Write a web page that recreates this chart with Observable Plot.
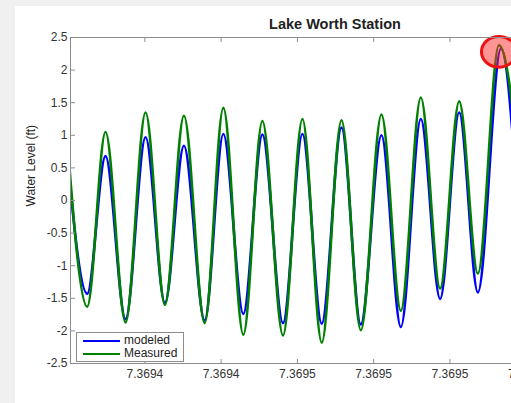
<!DOCTYPE html>
<html>
<head>
<meta charset="utf-8">
<script src="https://cdn.jsdelivr.net/npm/d3@7"></script>
<script src="https://cdn.jsdelivr.net/npm/@observablehq/plot@0.6"></script>
<style>
  html, body { margin: 0; padding: 0; width: 511px; height: 403px; overflow: hidden; background: #f0f0f0; }
  #panel { position: absolute; left: 15px; top: 6px; width: 700px; height: 420px; background: #fff; }
  #title { position: absolute; left: 15px; top: 16px; width: 640px; text-align: center;
           font: bold 14.5px "Liberation Sans", Arial, Helvetica, sans-serif; color: #222; line-height: 16px; }
  #chart { position: absolute; left: 15px; top: 32px; width: 600px; height: 360px; }
  #chart svg { max-width: none !important; }
  #legend { position: absolute; left: 76px; top: 332px; width: 106px; height: 28px; background: #fff;
            border: 1px solid #8c8c8c; font: 12px "Liberation Sans", Arial, Helvetica, sans-serif; color: #222; }
  .item { position: absolute; left: 0; height: 13px; line-height: 13px; }
  .sw { position: absolute; left: 6px; width: 37px; height: 0; top: 6px; border-top: 2.5px solid; }
  .lab { position: absolute; left: 47px; top: 0; white-space: nowrap; }
</style>
</head>
<body>
<div id="panel"></div>
<div id="title">Lake Worth Station</div>
<div id="chart"></div>
<div id="legend"></div>
<script>
// ---- data ----
const seriesNames = ["modeled", "Measured"];
const seriesColors = ["#0000ff", "#008000"];

const measuredTime = [736941.959, 736942.244, 736942.484, 736942.747, 736943.009, 736943.263, 736943.512, 736943.784,
  736944.029, 736944.291, 736944.541, 736944.811, 736945.066, 736945.319, 736945.578, 736945.831,
  736946.102, 736946.356, 736946.618, 736946.871, 736947.121, 736947.366, 736947.642, 736948.035];
const measuredLevel = [1.30, -1.63, 1.05, -1.87, 1.35, -1.60, 1.30, -1.88,
  1.42, -2.06, 1.22, -2.07, 1.25, -2.18, 1.23, -1.99,
  1.32, -1.69, 1.58, -1.35, 1.52, -1.12, 2.38, -1.30];

const modeledTime = [736941.959, 736942.244, 736942.484, 736942.747, 736943.009, 736943.263, 736943.512, 736943.784,
  736944.029, 736944.291, 736944.541, 736944.811, 736945.066, 736945.319, 736945.578, 736945.831,
  736946.102, 736946.356, 736946.618, 736946.871, 736947.121, 736947.366, 736947.668, 736947.957];
const modeledLevel = [1.00, -1.43, 0.68, -1.82, 0.97, -1.57, 0.84, -1.84,
  1.02, -1.74, 1.01, -1.88, 1.02, -1.89, 1.12, -1.90,
  1.00, -1.94, 1.25, -1.51, 1.35, -1.41, 2.33, -1.50];

const xDomain = [736942.025, 736949.0];
const xTicks = [736943, 736944, 736945, 736946, 736947, 736948];
const xTickLabels = ["7.3694", "7.3694", "7.3695", "7.3695", "7.3695", "7.3695"];
const yTicks = [-2.5, -2, -1.5, -1, -0.5, 0, 0.5, 1, 1.5, 2, 2.5];
const yTickLabels = ["-2.5", "-2", "-1.5", "-1", "-0.5", "0", "0.5", "1", "1.5", "2", "2.5"];
const yLabel = "Water Level (ft)";

const highlightTime = [736947.642];
const highlightLevel = [2.28];

// ---- build tables ----
const modeled = modeledTime.map((t, i) => ({t, level: modeledLevel[i]}));
const measured = measuredTime.map((t, i) => ({t, level: measuredLevel[i]}));
const highlight = highlightTime.map((t, i) => ({t, level: highlightLevel[i]}));

// ellipse symbol (aspect 1 : 0.88)
const ellipseSymbol = {
  draw(context, size) {
    const rx = Math.sqrt(size / Math.PI), ry = rx * 0.88, k = 0.5523;
    context.moveTo(rx, 0);
    context.bezierCurveTo(rx, ry * k, rx * k, ry, 0, ry);
    context.bezierCurveTo(-rx * k, ry, -rx, ry * k, -rx, 0);
    context.bezierCurveTo(-rx, -ry * k, -rx * k, -ry, 0, -ry);
    context.bezierCurveTo(rx * k, -ry, rx, -ry * k, rx, 0);
    context.closePath();
  }
};

const font = '"Liberation Sans", Arial, Helvetica, sans-serif';

const chart = Plot.plot({
  width: 598,
  height: 355,
  marginLeft: 55,
  marginRight: 11,
  marginTop: 5,
  marginBottom: 24,
  style: {fontFamily: font, fontSize: "12px", color: "#333", background: "transparent", overflow: "visible", maxWidth: "none"},
  x: {domain: xDomain},
  y: {domain: [-2.5, 2.5]},
  marks: [
    Plot.line(modeled, {x: "t", y: "level", stroke: seriesColors[0], strokeWidth: 2.6, curve: "monotone-x", clip: true}),
    Plot.line(measured, {x: "t", y: "level", stroke: seriesColors[1], strokeWidth: 2.6, curve: "monotone-x", clip: true}),
    Plot.dot(highlight, {x: "t", y: "level", r: 17.5, symbol: ellipseSymbol, fill: "#ff2a2a", fillOpacity: 0.5, stroke: "#ee1111", strokeWidth: 3}),
    Plot.frame({stroke: "#8c8c8c", strokeWidth: 1}),
    Plot.axisY({ticks: yTicks, tickSize: -5, tickPadding: 8, stroke: "#8c8c8c", fill: "#333",
      tickFormat: (d) => yTickLabels[yTicks.indexOf(d)], label: null}),
    Plot.axisX({ticks: xTicks, tickSize: -4, tickPadding: 10, stroke: "#8c8c8c", fill: "#333",
      tickFormat: (d) => xTickLabels[xTicks.indexOf(d)], label: null}),
    Plot.axisX({anchor: "top", ticks: xTicks, tickSize: -4, stroke: "#8c8c8c", tickFormat: () => "", label: null}),
    Plot.text([yLabel], {frameAnchor: "left", text: (d) => d, rotate: -90, dx: -39, dy: 6, fill: "#222", fontSize: 12})
  ]
});
document.getElementById("chart").appendChild(chart);

// legend
const legend = document.getElementById("legend");
seriesNames.forEach((name, i) => {
  const item = document.createElement("div");
  item.className = "item";
  item.style.top = (1 + i * 12.7) + "px";
  item.style.width = "100%";
  item.innerHTML = `<div class="sw" style="border-color:${seriesColors[i]}"></div><div class="lab">${name}</div>`;
  legend.appendChild(item);
});
</script>
</body>
</html>
